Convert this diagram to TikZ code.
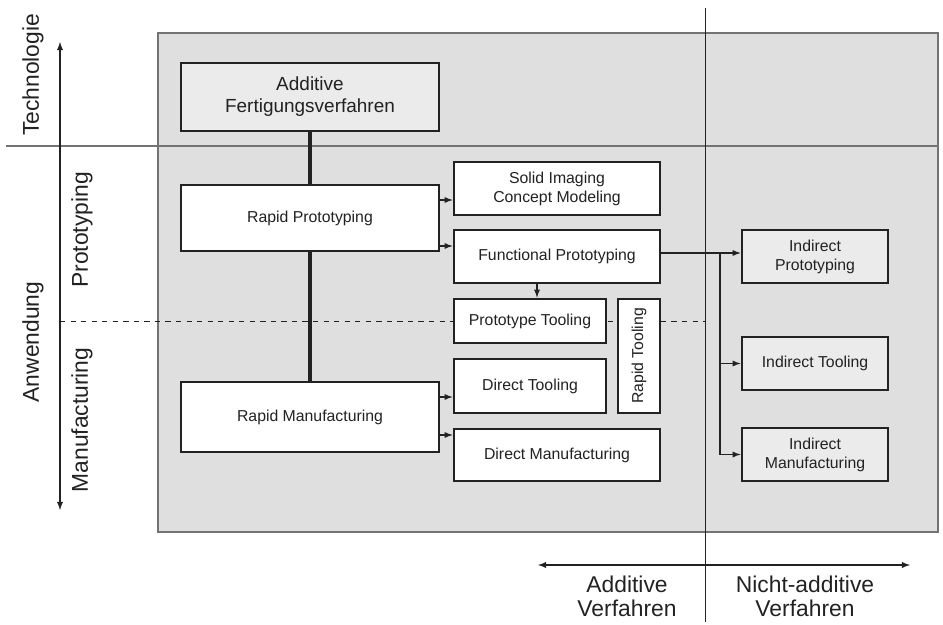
\documentclass[tikz,border=0pt]{standalone}
\usepackage{fontspec}
\setmainfont{Liberation Sans}
\usetikzlibrary{arrows}

\definecolor{bggray}{HTML}{DFDFDF}
\definecolor{boxgray}{HTML}{EBEBEB}
\definecolor{ink}{HTML}{222222}

\begin{document}
\begin{tikzpicture}[x=0.02cm,y=-0.02cm,
  box/.style={draw=ink, line width=1.6pt, fill=white, inner sep=0pt,
    align=center, text=ink, font=\fontsize{9}{10.8}\selectfont},
  techbox/.style={box, fill=boxgray},
  axlabel/.style={text=ink, align=center, font=\fontsize{13}{13.5}\selectfont},
  link/.style={draw=ink, line width=0.6pt, -latex}]
  \useasboundingbox (0,0) rectangle (943,625);
  % field
  \draw[fill=bggray, draw=black!55, line width=0.6pt] (158,33) rectangle (938,532);
  \draw[black!55, line width=0.8pt] (6,146) -- (938,146);
  \draw[ink, line width=0.5pt] (705,8) -- (705,622);
  \draw[ink, line width=0.5pt, dashed] (60,321) -- (705,321);
  % axes
  \draw[ink, line width=0.6pt, latex-latex] (60,42) -- (60,510);
  \draw[ink, line width=0.6pt, latex-latex] (538,565) -- (910,565);
  \node[axlabel, rotate=90] (tech) at (33,75) {Technologie};
  \node[axlabel, rotate=90] (anw) at (33,342) {Anwendung};
  \node[axlabel, rotate=90] (proto) at (82,230) {Prototyping};
  \node[axlabel, rotate=90] (manu) at (82,420) {Manufacturing};
  \node[axlabel] (addv) at (627,596) {Additive\\Verfahren};
  \node[axlabel] (naddv) at (805,596) {Nicht-additive\\Verfahren};
  % boxes
  \node[techbox, minimum width=5.16cm, minimum height=1.36cm, font=\fontsize{10.8}{12.5}\selectfont]
    (aft) at (310,97) {Additive\\Fertigungsverfahren};
  \node[box, minimum width=5.16cm, minimum height=1.32cm] (rp) at (310,218) {Rapid Prototyping};
  \node[box, minimum width=5.16cm, minimum height=1.40cm] (rm) at (310,417) {Rapid Manufacturing};
  \node[box, minimum width=4.12cm, minimum height=1.06cm] (sicm) at (557,188.5) {Solid Imaging\\Concept Modeling};
  \node[box, minimum width=4.12cm, minimum height=1.06cm] (fp) at (557,256.5) {Functional Prototyping};
  \node[box, minimum width=3.04cm, minimum height=0.88cm] (pt) at (530,321) {Prototype Tooling};
  \node[box, minimum width=2.28cm, minimum height=0.84cm, rotate=90] (rt) at (639,356) {Rapid Tooling};
  \node[box, minimum width=3.04cm, minimum height=1.08cm] (dt) at (530,386) {Direct Tooling};
  \node[box, minimum width=4.12cm, minimum height=1.04cm] (dm) at (557,455) {Direct Manufacturing};
  \node[techbox, minimum width=2.92cm, minimum height=1.06cm] (ip) at (815,256.5) {Indirect\\Prototyping};
  \node[techbox, minimum width=2.92cm, minimum height=1.06cm] (it) at (815,363.5) {Indirect Tooling};
  \node[techbox, minimum width=2.92cm, minimum height=1.06cm] (im) at (815,454.5) {Indirect\\Manufacturing};
  % links
  \draw[ink, line width=1.8pt] (aft) -- (rp) -- (rm);
  \draw[link] ([yshift=0.36cm]rp.east) -- ([yshift=0.36cm]rp.east -| sicm.west);
  \draw[link] ([yshift=-0.56cm]rp.east) -- ([yshift=-0.56cm]rp.east -| fp.west);
  \draw[link] ([yshift=0.40cm]rm.east) -- ([yshift=0.40cm]rm.east -| dt.west);
  \draw[link] ([yshift=-0.36cm]rm.east) -- ([yshift=-0.36cm]rm.east -| dm.west);
  \draw[link] ([xshift=-0.4cm]fp.south) -- ([xshift=-0.4cm]fp.south |- pt.north);
  \draw[link] ([yshift=0.07cm]fp.east) -- ([yshift=0.07cm]ip.west);
  \coordinate (split) at ([yshift=0.07cm]fp.east -| 720,0);
  \draw[link] (split) |- (it.west);
  \draw[link] (split) |- (im.west);
\end{tikzpicture}
\end{document}
